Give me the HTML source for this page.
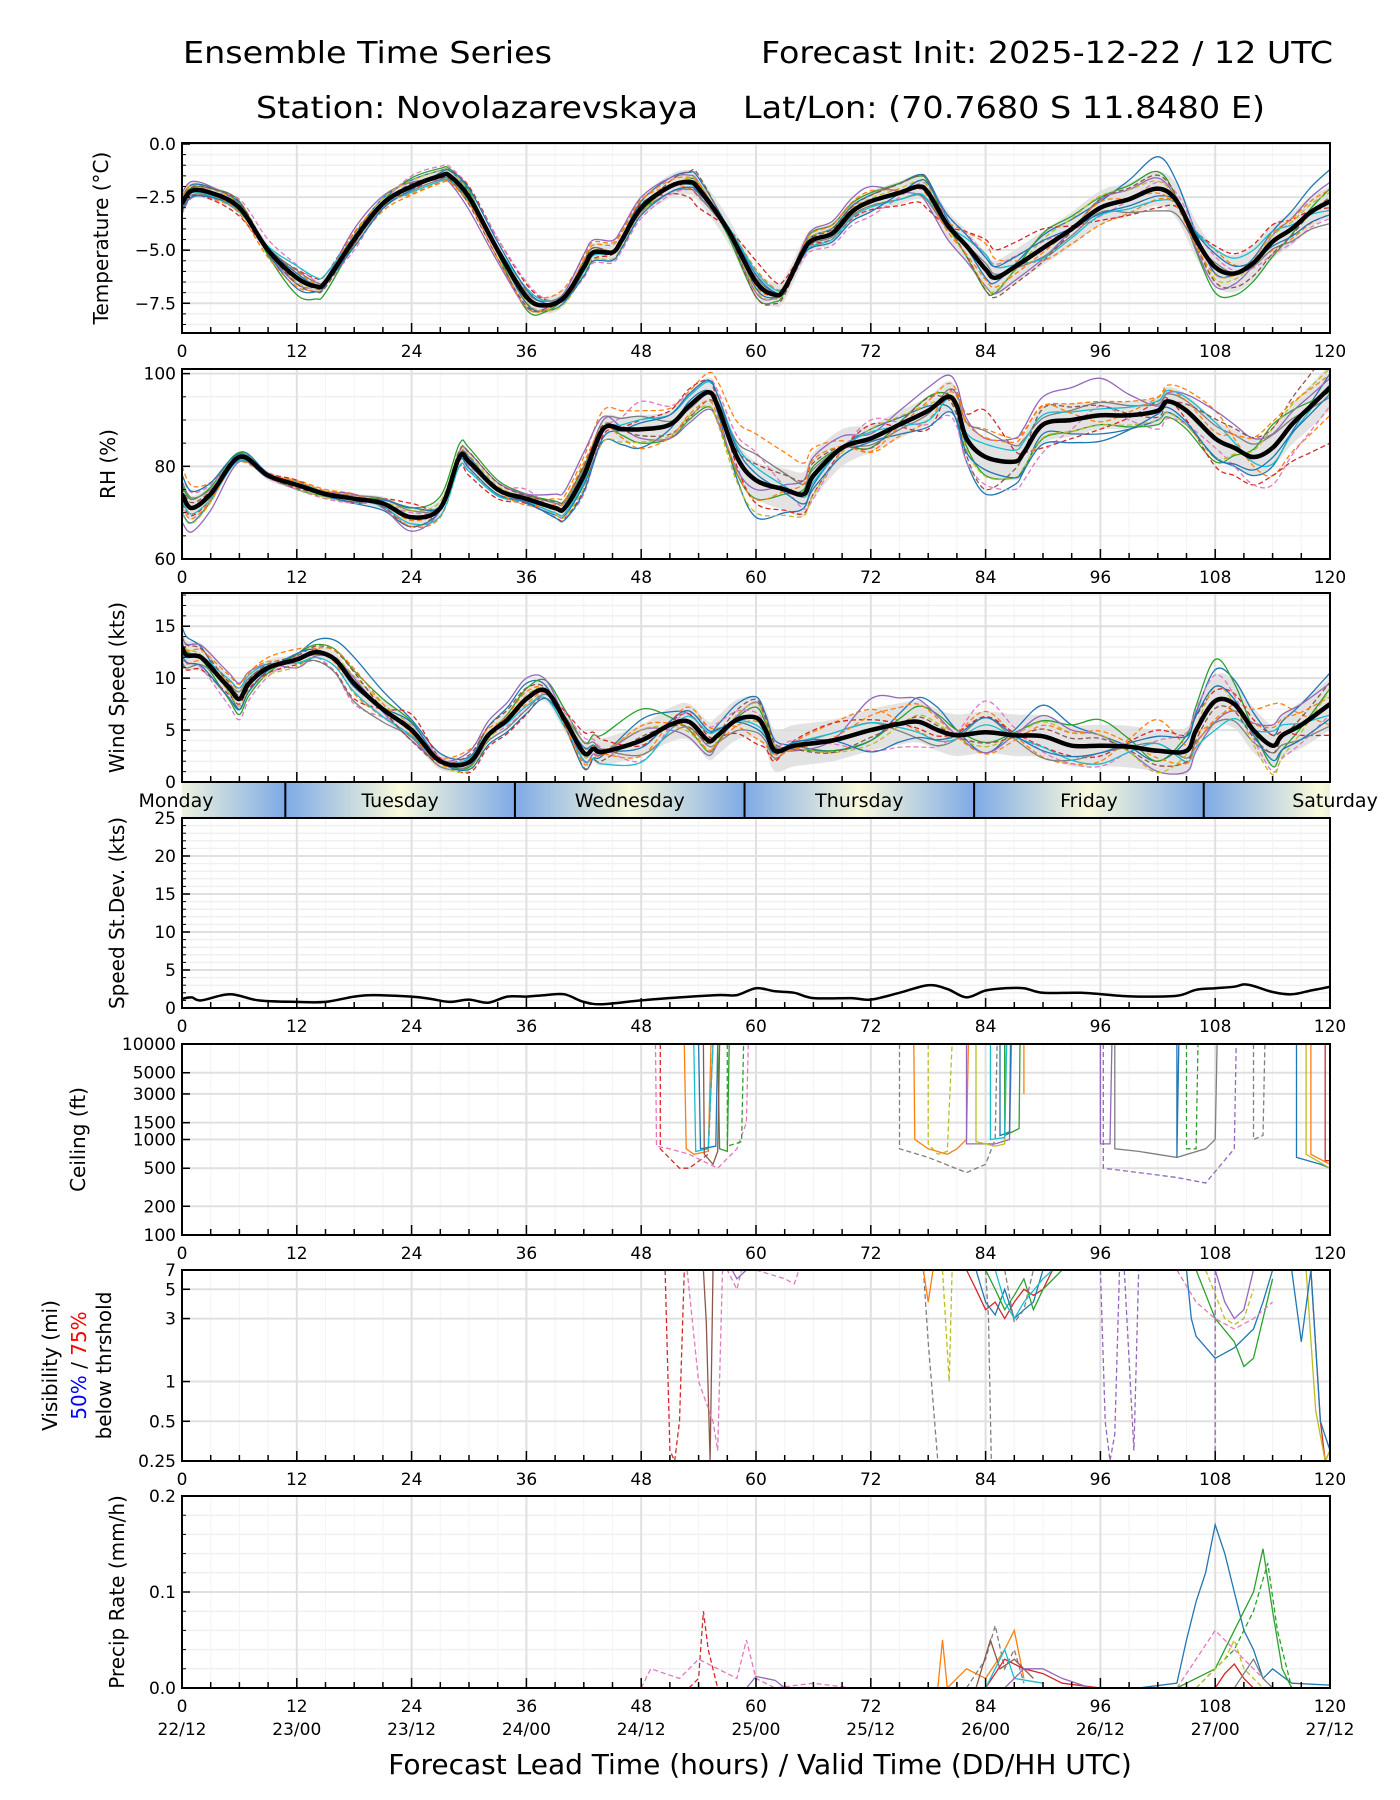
<!DOCTYPE html>
<html><head><meta charset="utf-8">
<style>
html,body{margin:0;padding:0;background:#fff;}
svg{display:block;font-family:"DejaVu Sans","Liberation Sans",sans-serif;}
</style></head>
<body>
<svg id="chart" width="1400" height="1800" viewBox="0 0 1400 1800" xmlns="http://www.w3.org/2000/svg">
<defs>
<linearGradient id="dayGrad" x1="0" x2="1" y1="0" y2="0">
<stop offset="0" stop-color="#7eaae6"/><stop offset="0.5" stop-color="#fafadc"/><stop offset="1" stop-color="#7eaae6"/>
</linearGradient>
</defs>
<text x="183" y="63" font-size="30" textLength="369" lengthAdjust="spacingAndGlyphs">Ensemble Time Series</text>
<text x="761" y="63" font-size="30" textLength="572" lengthAdjust="spacingAndGlyphs">Forecast Init: 2025-12-22 / 12 UTC</text>
<text x="256" y="118" font-size="30" textLength="442" lengthAdjust="spacingAndGlyphs">Station: Novolazarevskaya</text>
<text x="743" y="118" font-size="30" textLength="522" lengthAdjust="spacingAndGlyphs">Lat/Lon: (70.7680 S 11.8480 E)</text>
<g id="root"></g>
</svg>
<script>
// ---------- DATA ----------
const xTicks=[0,12,24,36,48,60,72,84,96,108,120];
const dateLabels=["22/12","23/00","23/12","24/00","24/12","25/00","25/12","26/00","26/12","27/00","27/12"];
const dayNames=["Monday","Tuesday","Wednesday","Thursday","Friday","Saturday"];
const dayBoundaries=[10.8,34.8,58.8,82.8,106.8];
const offHours=[0,6,12,18,24,30,36,42,48,54,60,66,72,78,84,90,96,102,108,114,120];

const tempHours=[0,1,3,6,9,12,14,15,18,21,24,27,28,30,33,36,38,40,42,43,45,46,48,51,53,54,57,60,62,63,65,66,68,70,72,75,77,78,80,82,84,85,87,90,93,96,99,102,104,106,108,110,112,114,116,118,120];
const tempMean=[-2.8,-2.2,-2.3,-3.0,-5.0,-6.3,-6.7,-6.5,-4.5,-2.8,-2.0,-1.5,-1.5,-2.5,-5.0,-7.2,-7.6,-7.2,-5.8,-5.1,-5.1,-4.5,-3.0,-2.0,-1.8,-2.1,-4.0,-6.5,-7.1,-6.8,-5.0,-4.5,-4.2,-3.2,-2.7,-2.3,-2.0,-2.3,-3.8,-4.8,-5.9,-6.3,-5.8,-4.9,-4.0,-3.0,-2.6,-2.1,-2.7,-4.5,-5.8,-6.1,-5.6,-4.6,-4.0,-3.2,-2.7];
const tempSpread=[0.4,0.3,0.3,0.3,0.3,0.3,0.4,0.4,0.5,0.6,0.6,0.5,0.5,0.6,0.8,0.8,0.8,0.8,0.9,0.8,0.7];
const tempOffsets=[
[0.3,0.2,-0.5,0.2,0.3,0.2,-0.3,-0.2,0.3,0.5,-0.3,0.2,0.3,0.6,-0.4,0.6,0.3,1.5,-0.3,0.5,1.5],
[-0.3,-0.2,0.3,-0.3,-0.4,-0.3,0.3,0.5,0.4,-0.4,0.6,-0.3,-0.2,-0.4,1.2,-0.6,-0.8,-0.5,0.8,-0.4,-0.6],
[0.1,0.3,-0.8,-0.2,0.4,0.3,-0.6,0.3,-0.2,0.2,-0.7,0.4,0.4,0.5,-1.0,0.7,0.5,0.8,-1.2,-0.7,0.6],
[-0.2,-0.4,0.4,0.3,-0.2,0.5,0.6,-0.4,0.2,-0.9,1.0,-0.2,-0.4,-0.8,1.4,0.9,-0.6,-0.9,1.0,0.8,-0.3],
[0.5,0.1,-0.3,0.5,0.2,-0.6,-0.5,0.6,0.5,0.3,-0.5,0.5,0.7,-0.6,-0.8,-0.5,0.4,0.5,-0.9,0.3,0.9],
[-0.5,0.4,0.6,-0.5,0.5,0.4,0.7,-0.5,-0.5,-0.3,0.3,-0.5,-0.7,0.3,0.7,0.3,-0.4,0.3,0.5,-0.6,-0.8]];

const rhHours=[0,1,3,6,9,12,15,18,21,24,27,29,30,33,36,39,40,42,44,46,48,51,53,55,56,58,60,63,65,66,69,72,75,78,80,81,82,84,87,88,90,93,96,99,102,103,105,108,110,112,114,116,118,120];
const rhMean=[74,71,74,82,78,76,74,73,72,69,71,82,81,75,73,71,71,78,88,88,88,89,93,96,93,82,77,75,74,78,84,86,89,92,95,93,86,82,81,83,89,90,91,91,92,94,92,86,84,82,84,89,93,97];
const rhSpread=[3,1,1,1,2,2,1,2,3,3,4,5,3,3,4,4,3,3,4,4,5];
const rhOffsets=[
[-4,1,0,-1,-2,1,-1,-2,-4,2,-8,-2,2,1,-8,-2,-4,-2,-4,-4,3],
[6,-1,1,1,-2,-2,0,4,4,3,10,6,-3,-2,6,4,3,3,6,-6,-6],
[2,1,-1,0,2,3,1,2,-3,-3,-4,2,-2,3,-4,-3,-2,-3,-5,5,-1],
[-2,0,1,-1,3,-3,-1,-3,2,4,-5,-4,3,-4,10,-5,-3,2,-6,-6,-12],
[-6,-1,0,1,-3,2,1,5,-2,-4,-2,4,1,5,4,6,8,1,6,3,2],
[4,0,-1,-1,1,-1,2,-4,6,2,6,-5,4,-3,-6,-6,2,-4,-2,-8,-4]];

const windHours=[0,0.5,2,4,5,6,7,9,12,14,16,18,21,24,27,30,32,34,36,38,40,42,43,44,48,51,53,55,56,58,60,61,62,64,68,72,75,77,79,81,84,87,90,93,96,99,102,105,106,108,110,112,114,115,117,120];
const windMean=[13,12.2,12,10,9,8,9.5,11,11.8,12.5,11.8,9.5,7,5,2,1.9,4.5,6,8,8.8,6,2.8,3.2,2.9,4,5.5,5.8,4,4.5,6,6.2,5,3,3.5,4,5,5.6,5.8,5,4.5,4.8,4.5,4.4,3.5,3.5,3.4,3,3,5,7.8,7.5,5,3.5,4.5,5.5,7.5];
const windSpread=[1.5,1,0.5,0.8,1,0.6,1,1.2,1.5,1.8,2,2,2,2,2,2,2,2,2.5,2,2.5];
const windOffsets=[
[2,-1,0.5,2.5,1,0.5,1.5,-1.5,2,0.5,2,-1,-1,3,-2,3,1,-1,3,1,3],
[-1,1,1,-1,-0.5,1.2,-0.5,0.5,-1.5,2,-2,1.5,2,-1.5,2,-2,-1.5,3,-2,4,-2],
[0.5,-1.5,0.5,1.2,0.8,-0.5,1,1,3,-1.5,1,-1,-1,2,-1,1.5,2.5,-1,4,-2,1.5],
[-1.5,-0.5,-0.5,-1.5,1.5,-1,-1.5,2,-0.5,1,-2.5,2,1,-1,1.5,-1,-1,2,1,1,-3],
[1,1.5,-0.8,0.5,-1,1,2,-0.8,1,-2,1.5,-1.5,3,2,-2,2,1,-2,-2,2,2],
[-0.5,-2,0.3,-2,0.5,0.2,-1,1.5,-2,1.5,0.5,0.5,-2,-2.5,3,-1.5,-2,1,2.5,-2.5,-1]];

const sdHours=[0,1,2,5,8,12,15,18,20,24,26,28,30,32,34,36,38,40,42,44,48,52,56,58,60,62,64,66,70,72,75,78,80,82,84,86,88,90,94,98,100,104,106,108,110,111,112,114,116,118,120];
const sdValues=[1.2,1.4,1.0,1.8,1.0,0.8,0.8,1.5,1.7,1.5,1.2,0.8,1.1,0.7,1.5,1.5,1.7,1.8,0.8,0.5,1.0,1.4,1.7,1.7,2.6,2.2,2.0,1.3,1.3,1.1,2.0,3.0,2.5,1.4,2.3,2.6,2.6,2.0,2.0,1.6,1.5,1.6,2.4,2.6,2.8,3.1,2.9,2.1,1.8,2.3,2.8];

const tab=["#1f77b4","#ff7f0e","#2ca02c","#d62728","#9467bd","#8c564b","#e377c2","#7f7f7f","#bcbd22","#17becf"];

const ceilMembers=[
{c:3,d:1,p:[[50,10000],[50,800],[52,500],[53,500],[55,700],[55.5,10000]]},
{c:6,d:1,p:[[49.5,10000],[49.6,850],[51,800],[53,700],[56,500],[58,800],[59,1500],[59.2,10000]]},
{c:1,d:0,p:[[52.5,10000],[52.7,800],[53.5,700],[55,750],[55.3,10000]]},
{c:9,d:0,p:[[53.5,10000],[53.7,750],[55,800],[55.5,10000]]},
{c:0,d:0,p:[[54,10000],[54.2,800],[55.8,850],[56,10000]]},
{c:2,d:1,p:[[57,10000],[57,850],[58.5,950],[58.7,10000]]},
{c:2,d:0,p:[[56,10000],[56.2,800],[57,750],[57.2,10000]]},
{c:5,d:0,p:[[54.5,10000],[54.6,700],[55.5,550],[56,750],[56.2,10000]]},
{c:7,d:1,p:[[75,10000],[75,800],[78,650],[82,450],[84,550],[85,1000],[85.2,10000]]},
{c:1,d:0,p:[[76.5,10000],[76.6,1000],[78,800],[80,700],[81,800],[82,1000],[82.2,10000]]},
{c:8,d:1,p:[[78,10000],[78,900],[79,700],[80,750],[80.5,10000]]},
{c:4,d:0,p:[[82,10000],[82,900],[85,900],[86.5,1000],[86.7,10000]]},
{c:8,d:0,p:[[83,10000],[83,950],[85,850],[86,900],[86.2,10000]]},
{c:2,d:0,p:[[86,10000],[86,1100],[87.5,1300],[87.6,10000]]},
{c:0,d:0,p:[[85.5,10000],[85.5,1100],[86.5,1200],[86.6,10000]]},
{c:9,d:0,p:[[84.5,10000],[84.5,1000],[86,1050],[86.2,10000]]},
{c:1,d:0,p:[[88,10000],[88,3000]]},
{c:4,d:0,p:[[96,10000],[96,900],[97,900],[97.2,10000]]},
{c:7,d:0,p:[[97.5,10000],[97.5,800],[100,750],[104,650],[107,800],[108,1000],[108.2,10000]]},
{c:4,d:1,p:[[96.3,10000],[96.3,500],[100,450],[104,400],[107,350],[110,800],[110.2,10000]]},
{c:0,d:0,p:[[104,10000],[104,650],[104.2,10000]]},
{c:2,d:1,p:[[105,10000],[105,800],[106,800],[106.2,10000]]},
{c:7,d:1,p:[[112,10000],[112,1000],[113,1100],[113.2,10000]]},
{c:0,d:0,p:[[116.5,10000],[116.5,650],[119,550],[120,500]]},
{c:1,d:0,p:[[118,10000],[118,700],[120,550]]},
{c:8,d:0,p:[[117.5,10000],[117.5,700],[120,500]]},
{c:3,d:0,p:[[119.5,10000],[119.5,600],[120,600]]}];

const visMembers=[
{c:3,d:1,p:[[50.5,7],[51,0.3],[51.5,0.25],[52,0.5],[52.5,7]]},
{c:5,d:0,p:[[54.5,7],[54.8,2.8],[55.2,0.25],[55.5,7]]},
{c:6,d:1,p:[[52.8,7],[54,1],[55.5,0.5],[56,0.3],[56.5,7],[57,7],[58,5],[58.5,7]]},
{c:4,d:0,p:[[57.5,7],[58,6],[59,7]]},
{c:6,d:1,p:[[60,7],[63,6],[64,5.5],[64.5,7]]},
{c:7,d:1,p:[[77.5,7],[78,2],[79,0.25],[79.5,0.25]]},
{c:8,d:1,p:[[79.5,7],[80.2,1],[80.5,7]]},
{c:1,d:0,p:[[77.5,7],[78,4],[78.5,7]]},
{c:3,d:0,p:[[82,7],[83,5],[84,3.5],[85,4],[86,3],[87,4],[88,5],[89,4.5],[90,5],[91,7]]},
{c:0,d:0,p:[[83,7],[84,4],[85,3.2],[86,5],[87,3],[88,3.5],[89,4],[90,7]]},
{c:2,d:0,p:[[84,7],[85,5],[86,3.5],[87,4.5],[88,6],[89,3.5],[90,5],[92,7]]},
{c:9,d:0,p:[[85,7],[86,4],[87,3],[88,4],[90,6],[91,7]]},
{c:7,d:1,p:[[84,7],[84.3,3],[84.6,0.25]]},
{c:7,d:1,p:[[86,7],[87,2.8],[88,3.5],[89,7]]},
{c:4,d:1,p:[[96,7],[96.5,0.5],[97,0.25],[97.5,0.4],[98,7]]},
{c:4,d:1,p:[[98.5,7],[99.5,0.3],[100,7]]},
{c:0,d:0,p:[[105,7],[105.5,3],[106,2.2],[108,1.5],[110,1.8],[112,2.5],[113,4],[114,7]]},
{c:2,d:0,p:[[106,7],[108,3],[110,2],[111,1.3],[112,1.5],[113,3],[114,6]]},
{c:6,d:1,p:[[104,7],[106,4],[108,3],[110,2.5],[112,3],[114,4]]},
{c:8,d:1,p:[[107,7],[109,3],[110,2.7],[111,3],[112,5]]},
{c:4,d:0,p:[[108,7],[109,4],[110,3],[111,3.5],[112,7]]},
{c:4,d:1,p:[[108,7],[108,0.25]]},
{c:3,d:0,p:[[118,7],[119,0.5],[119.5,0.25],[120,0.3]]},
{c:8,d:0,p:[[117.5,7],[118.5,0.6],[119.5,0.25],[120,0.3]]},
{c:0,d:0,p:[[116,7],[117,2],[118,7],[119,0.5],[120,0.3]]}];

const precipMembers=[
{c:0,d:0,p:[[100,0],[104,0.005],[105,0.05],[106,0.09],[107,0.12],[108,0.17],[109,0.14],[110,0.1],[111,0.06],[112,0.04],[113,0.01],[114,0.02],[116,0.005],[120,0.003]]},
{c:2,d:0,p:[[104,0],[108,0.02],[110,0.06],[112,0.1],[113,0.145],[114,0.08],[115,0.02],[116,0]]},
{c:2,d:1,p:[[106,0],[110,0.04],[112,0.08],[113.5,0.13],[114.5,0.06],[116,0]]},
{c:3,d:1,p:[[53,0],[54,0.01],[54.5,0.08],[55,0.04],[56,0]]},
{c:6,d:1,p:[[48,0],[49,0.02],[52,0.01],[54,0.03],[56,0.02],[58,0.01],[59,0.05],[60,0.01],[62,0],[66,0.005],[70,0]]},
{c:1,d:0,p:[[79,0],[79.5,0.05],[80,0],[82,0.02],[84,0.01],[86,0.04],[87,0.06],[88,0.01]]},
{c:4,d:0,p:[[59,0],[60,0.012],[62,0.008],[63,0]]},
{c:7,d:1,p:[[82,0],[84,0.03],[85,0.065],[86,0.02],[87,0.04],[88,0.005]]},
{c:3,d:0,p:[[84,0],[86,0.03],[88,0.02],[90,0.015],[92,0.005],[96,0]]},
{c:5,d:0,p:[[83,0],[84.5,0.05],[85.5,0.02],[87,0.03],[89,0.01]]},
{c:9,d:0,p:[[84,0],[85,0.02],[86,0.04],[87,0.01],[90,0.005]]},
{c:4,d:0,p:[[86,0],[88,0.02],[90,0.02],[92,0.01],[95,0]]},
{c:6,d:1,p:[[104,0],[106,0.03],[108,0.06],[110,0.04],[112,0.02],[114,0]]},
{c:8,d:1,p:[[106,0],[109,0.03],[110,0.05],[111,0.02],[113,0]]},
{c:3,d:0,p:[[108,0],[109,0.015],[110,0.025],[111,0.01],[112,0]]},
{c:7,d:0,p:[[110,0],[112,0.03],[113,0.01],[114,0]]}];

// ---------- LAYOUT ----------
const X0=182,X1=1330;
const root=document.getElementById('root');
const NS="http://www.w3.org/2000/svg";
function el(tag,attrs,parent){const e=document.createElementNS(NS,tag);for(const k in attrs)e.setAttribute(k,attrs[k]);(parent||root).appendChild(e);return e;}
const xs=h=>X0+(h/120)*(X1-X0);
function interp(hs,vs,h){if(h<=hs[0])return vs[0];for(let i=1;i<hs.length;i++){if(h<=hs[i]){const t=(h-hs[i-1])/(hs[i]-hs[i-1]);return vs[i-1]+t*(vs[i]-vs[i-1]);}}return vs[vs.length-1];}
function smoothPath(pts){let d="M"+pts[0][0].toFixed(1)+","+pts[0][1].toFixed(1);for(let i=0;i<pts.length-1;i++){const p0=pts[Math.max(0,i-1)],p1=pts[i],p2=pts[i+1],p3=pts[Math.min(pts.length-1,i+2)];const c1=[p1[0]+(p2[0]-p0[0])/6,p1[1]+(p2[1]-p0[1])/6],c2=[p2[0]-(p3[0]-p1[0])/6,p2[1]-(p3[1]-p1[1])/6];d+=" C"+c1[0].toFixed(1)+","+c1[1].toFixed(1)+" "+c2[0].toFixed(1)+","+c2[1].toFixed(1)+" "+p2[0].toFixed(1)+","+p2[1].toFixed(1);}return d;}
function linePath(pts){return pts.map((p,i)=>(i?"L":"M")+p[0].toFixed(1)+","+p[1].toFixed(1)).join(" ");}

function panel(name,top,bot,ys,yTicks,yTickLbl,minorTicks,label,noXLabels){
  const g=el('g',{});
  
  
  const cp=el('clipPath',{id:'clip-'+name},g);el('rect',{x:X0,y:top,width:X1-X0,height:bot-top},cp);
  (minorTicks||[]).forEach(v=>{const y=ys(v);el('line',{x1:X0,x2:X1,y1:y,y2:y,stroke:'#f0f0f0','stroke-width':1.5},g);});
  for(let h=3;h<120;h+=3){if(h%12)el('line',{x1:xs(h),x2:xs(h),y1:top,y2:bot,stroke:'#f3f3f3','stroke-width':1},g);}
  yTicks.forEach(v=>{const y=ys(v);el('line',{x1:X0,x2:X1,y1:y,y2:y,stroke:'#e0e0e0','stroke-width':2},g);});
  xTicks.forEach(h=>{el('line',{x1:xs(h),x2:xs(h),y1:top,y2:bot,stroke:'#e0e0e0','stroke-width':2},g);});
  const data=el('g',{'clip-path':'url(#clip-'+name+')'},g);
  for(let h=0;h<=120;h+=3){const big=h%12===0;el('line',{x1:xs(h),x2:xs(h),y1:bot,y2:bot-(big?10:6),stroke:'#000','stroke-width':1.5},g);}
  yTicks.forEach((v,i)=>{const y=ys(v);el('line',{x1:X0,x2:X0+8,y1:y,y2:y,stroke:'#000','stroke-width':1.5},g);
    const t=el('text',{x:X0-6,y:y+6,'font-size':17,'text-anchor':'end'},g);t.textContent=yTickLbl[i];
    
    });
  (minorTicks||[]).forEach(v=>{const y=ys(v);el('line',{x1:X0,x2:X0+4,y1:y,y2:y,stroke:'#000','stroke-width':1},g);});
  if(!noXLabels) xTicks.forEach(h=>{const t=el('text',{x:xs(h),y:bot+24,'font-size':17,'text-anchor':'middle'},g);t.textContent=h;
    
    });
  el('rect',{x:X0,y:top,width:X1-X0,height:bot-top,fill:'none',stroke:'#000','stroke-width':2},g);
  if(label){const cy=(top+bot)/2;const t=el('text',{x:0,y:0,'font-size':20,'text-anchor':'middle',transform:`translate(${label.x},${cy}) rotate(-90)`},g);t.textContent=label.t;
    
    }
  return data;
}

function ensemble(data,name,hours,mean,spread,offsets,ys){
  const up=[],lo=[];
  for(let i=0;i<hours.length;i++){const s=interp(offHours,spread,hours[i]);up.push([xs(hours[i]),ys(mean[i]+s)]);lo.push([xs(hours[i]),ys(mean[i]-s)]);}
  const band=el('path',{d:smoothPath(up)+" L"+smoothPath(lo.reverse()).slice(1)+" Z",fill:'#dcdcdc','fill-opacity':0.8},data);
  
  
  const colorsPerPanel=[0,1,2,3,4,6,7,8,9,5];
  let k=0;
  for(let rep=0;rep<2;rep++){
    offsets.forEach((off,j)=>{
      const sign=rep?-0.7:1;
      const pts=hours.map((h,i)=>[xs(h),ys(mean[i]+sign*interp(offHours,off,h))]);
      const p=el('path',{d:smoothPath(pts),fill:'none',stroke:tab[colorsPerPanel[k%10]],'stroke-width':1.3,'stroke-dasharray':(k%2)?'5,3':'none'},data);
      
      
      k++;
    });
  }
  const m=el('path',{d:smoothPath(hours.map((h,i)=>[xs(h),ys(mean[i])])),fill:'none',stroke:'#000','stroke-width':4.5},data);
  
  
}

function members(data,name,list,ys){
  list.forEach(mb=>{
    const p=el('path',{d:linePath(mb.p.map(q=>[xs(q[0]),ys(q[1])])),fill:'none',stroke:tab[mb.c],'stroke-width':1.3,'stroke-dasharray':mb.d?'5,3':'none'},data);
    
    
  });
}

// Temperature
{const top=143,bot=333,ys=v=>top+1+(0-v)/8.9*(bot-top-1);
 const mn=[];for(let v=-8.5;v<0;v+=0.5){if(Math.abs(v%2.5)>0.01)mn.push(v);}
 const d=panel('temperature',top,bot,ys,[-7.5,-5,-2.5,0],["−7.5","−5.0","−2.5","0.0"],mn,{x:108,t:"Temperature (°C)"});
 ensemble(d,'temperature',tempHours,tempMean,tempSpread,tempOffsets,ys);}
// RH
{const top=369,bot=559,ys=v=>bot-(v-60)/41*(bot-top);
 const mn=[65,70,75,85,90,95];
 const d=panel('rh',top,bot,ys,[60,80,100],["60","80","100"],mn,{x:115,t:"RH (%)"});
 ensemble(d,'rh',rhHours,rhMean,rhSpread,rhOffsets,ys);}
// Wind
{const top=593,bot=782,ys=v=>bot-v/18.2*(bot-top);
 const mn=[1,2,3,4,6,7,8,9,11,12,13,14,16,17,18];
 const d=panel('wind',top,bot,ys,[0,5,10,15],["0","5","10","15"],mn,{x:124,t:"Wind Speed (kts)"},true);
 ensemble(d,'wind',windHours,windMean,windSpread,windOffsets,ys);}
// Day band
{const g=el('g',{});
 const cp=el('clipPath',{id:'clip-day'},g);el('rect',{x:X0,y:783,width:X1-X0,height:35},cp);
 const gg=el('g',{'clip-path':'url(#clip-day)'},g);
 const starts=[dayBoundaries[0]-24].concat(dayBoundaries);
 starts.forEach(s=>{el('rect',{x:xs(s),y:783,width:xs(s+24)-xs(s),height:35,fill:'url(#dayGrad)'},gg);});
 dayBoundaries.forEach(b=>{el('line',{x1:xs(b),x2:xs(b),y1:783,y2:818,stroke:'#000','stroke-width':2},g);});
 starts.forEach((s,i)=>{let c=xs(s+12);if(i===0)c=176;if(i===5)c=1335;const t=el('text',{x:c,y:807,'font-size':19,'text-anchor':'middle'},g);t.textContent=dayNames[i];
  
  });}
// Stdev
{const top=818,bot=1008,ys=v=>bot-v/25*(bot-top);
 const mn=[];for(let v=1;v<25;v++)if(v%5)mn.push(v);
 const d=panel('stdev',top,bot,ys,[0,5,10,15,20,25],["0","5","10","15","20","25"],mn,{x:124,t:"Speed St.Dev. (kts)"});
 const p=el('path',{d:smoothPath(sdHours.map((h,i)=>[xs(h),ys(sdValues[i])])),fill:'none',stroke:'#000','stroke-width':2.5},d);
 }
// Ceiling
{const top=1044,bot=1235,ys=v=>bot-(Math.log10(v)-2)/2*(bot-top);
 const d=panel('ceiling',top,bot,ys,[100,200,500,1000,1500,3000,5000,10000],["100","200","500","1000","1500","3000","5000","10000"],[],{x:85,t:"Ceiling (ft)"});
 members(d,'ceiling',ceilMembers,ys);}
// Visibility
{const top=1270,bot=1461,lo=Math.log10(0.25),hi=Math.log10(7),ys=v=>bot-(Math.log10(v)-lo)/(hi-lo)*(bot-top);
 const d=panel('visibility',top,bot,ys,[0.25,0.5,1,3,5,7],["0.25","0.5","1","3","5","7"],[],null);
 members(d,'visibility',visMembers,ys);
 const cy=(top+bot)/2;
 const t1=el('text',{'font-size':20,'text-anchor':'middle',transform:`translate(57,${cy}) rotate(-90)`});t1.textContent="Visibility (mi)";
 
 const t2=el('text',{'font-size':20,'text-anchor':'middle',transform:`translate(86,${cy}) rotate(-90)`});
 
 const a=el('tspan',{fill:'#0000ff'},t2);a.textContent="50%";const b=el('tspan',{fill:'#000'},t2);b.textContent=" / ";const c=el('tspan',{fill:'#ff0000'},t2);c.textContent="75%";
 const t3=el('text',{'font-size':20,'text-anchor':'middle',transform:`translate(111,${cy}) rotate(-90)`});t3.textContent="below thrshold";
 }
// Precip
{const top=1496,bot=1688,ys=v=>bot-v/0.2*(bot-top);
 const mn=[0.02,0.04,0.06,0.08,0.12,0.14,0.16,0.18];
 const d=panel('precip',top,bot,ys,[0,0.1,0.2],["0.0","0.1","0.2"],mn,{x:124,t:"Precip Rate (mm/h)"});
 members(d,'precip',precipMembers,ys);
 xTicks.forEach((h,i)=>{const t=el('text',{x:xs(h),y:1735,'font-size':17,'text-anchor':'middle'});t.textContent=dateLabels[i];
  });
 const xl=el('text',{x:760,y:1774,'font-size':28,'text-anchor':'middle'});xl.textContent="Forecast Lead Time (hours) / Valid Time (DD/HH UTC)";
 }
</script>
</body></html>
